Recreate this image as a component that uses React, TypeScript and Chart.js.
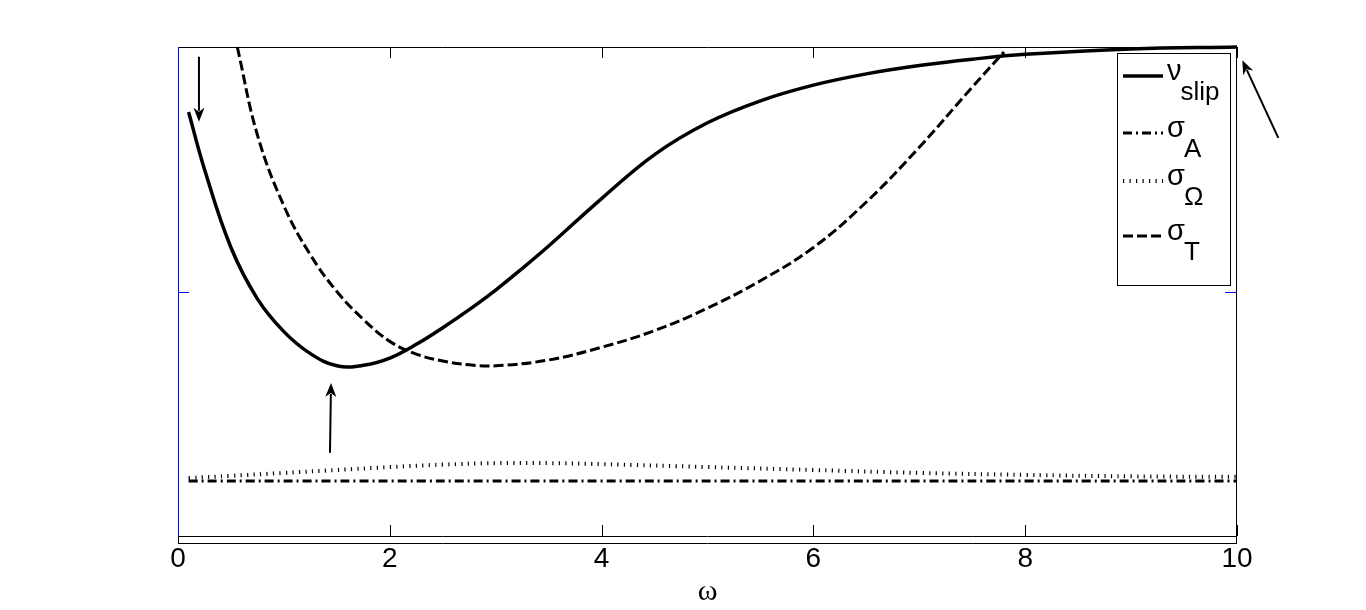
import React, { useEffect, useRef } from 'react';
import { Chart, registerables } from 'chart.js';

Chart.register(...registerables);

const FONT = '"Liberation Sans", Arial, Helvetica, sans-serif';

// ---- axes ----
const xTicks = [0, 2, 4, 6, 8, 10];
const yTicks = [0, 0.5, 1];

// ---- series: nu_slip (solid) ----
const slipOmega = [0.1, 0.25, 0.5, 0.75, 1, 1.25, 1.5, 1.75, 2, 2.25, 2.5, 2.75, 3, 3.25, 3.5, 4, 4.5, 5, 5.5, 6, 6.5, 7, 7.5, 8, 9, 10];
const slipValues = [0.867, 0.75, 0.59, 0.485, 0.418, 0.373, 0.348, 0.349, 0.364, 0.392, 0.426, 0.463, 0.503, 0.547, 0.593, 0.69, 0.78, 0.845, 0.89, 0.922, 0.945, 0.962, 0.975, 0.985, 0.996, 1.0];

// ---- series: sigma_A (dash-dot) ----
const sigmaAOmega = [0.1, 2, 4, 6, 8, 10];
const sigmaAValues = [0.1125, 0.1125, 0.1125, 0.1125, 0.1125, 0.1125];

// ---- series: sigma_Omega (dotted) ----
const sigmaWOmega = [0.1, 0.5, 1, 1.5, 2, 2.5, 3, 3.5, 4, 5, 6, 7, 8, 9, 10];
const sigmaWValues = [0.1186, 0.123, 0.129, 0.135, 0.141, 0.146, 0.149, 0.149, 0.147, 0.141, 0.135, 0.129, 0.125, 0.122, 0.121];

// ---- series: sigma_T (dashed) ----
const sigmaTOmega = [0.56, 0.75, 1, 1.25, 1.5, 1.75, 2, 2.25, 2.5, 2.75, 3, 3.5, 4, 4.5, 5, 5.5, 6, 6.5, 7, 7.5, 7.8];
const sigmaTValues = [1.0, 0.82, 0.675, 0.575, 0.5, 0.443, 0.398, 0.372, 0.358, 0.35, 0.348, 0.36, 0.386, 0.42, 0.466, 0.522, 0.59, 0.683, 0.795, 0.918, 0.99];

// ---- legend labels ----
const legendMain = ['ν', 'σ', 'σ', 'σ'];
const legendSub = ['slip', 'A', 'Ω', 'T'];

// ---- arrow annotations (data coordinates: [omega, value]) ----
const arrowFrom = [[0.198, 0.98], [1.435, 0.17], [10.39, 0.814]];
const arrowTo = [[0.198, 0.847], [1.445, 0.313], [10.05, 0.973]];

const toPoints = (xs: number[], ys: number[]) => xs.map((x, i) => ({ x, y: ys[i] }));

const styles = [
  { width: 3.5, dash: [] as number[] },
  { width: 3, dash: [9, 4, 2, 4] },
  { width: 4, dash: [1.2, 5.3] },
  { width: 3, dash: [10, 4] },
];

const framePlugin = {
  id: 'frame',
  afterDatasetsDraw(chart: any) {
    const { ctx, chartArea: a, scales } = chart;
    const xs = scales.x;
    const ys = scales.y;
    ctx.save();
    ctx.lineWidth = 1;
    ctx.strokeStyle = '#000';
    ctx.beginPath();
    ctx.moveTo(a.left, a.top + 0.5);
    ctx.lineTo(a.right, a.top + 0.5);
    ctx.moveTo(a.right - 0.5, a.top);
    ctx.lineTo(a.right - 0.5, a.bottom + 7);
    ctx.moveTo(a.left, a.bottom + 0.5);
    ctx.lineTo(a.right, a.bottom + 0.5);
    ctx.moveTo(a.left, a.bottom + 7.5);
    ctx.lineTo(a.right, a.bottom + 7.5);
    ctx.moveTo(a.left + 0.5, a.bottom);
    ctx.lineTo(a.left + 0.5, a.bottom + 7);
    xTicks.forEach((v) => {
      const px = Math.round(xs.getPixelForValue(v)) + 0.5;
      ctx.moveTo(px, a.bottom);
      ctx.lineTo(px, a.bottom - 11);
      ctx.moveTo(px, a.top);
      ctx.lineTo(px, a.top + 11);
    });
    ctx.stroke();
    ctx.strokeStyle = '#0000ff';
    ctx.beginPath();
    ctx.moveTo(a.left + 0.5, a.top);
    ctx.lineTo(a.left + 0.5, a.bottom);
    yTicks.forEach((v) => {
      const py = Math.round(ys.getPixelForValue(v)) + 0.5;
      if (v > 0 && v < 1) {
        ctx.moveTo(a.left, py);
        ctx.lineTo(a.left + 11, py);
        ctx.moveTo(a.right - 1, py);
        ctx.lineTo(a.right - 12, py);
      }
    });
    ctx.stroke();
    ctx.restore();
  },
  afterDraw(chart: any) {
    const { ctx, chartArea: a, scales } = chart;
    const xs = scales.x;
    const ys = scales.y;
    ctx.save();
    const bx = a.right - 120;
    const by = a.top + 6;
    const bw = 113;
    const bh = 232;
    ctx.fillStyle = '#fff';
    ctx.fillRect(bx, by, bw, bh);
    ctx.strokeStyle = '#000';
    ctx.lineWidth = 1;
    ctx.strokeRect(bx + 0.5, by + 0.5, bw, bh);
    const rowOff = [29, 86, 134, 189];
    chart.data.datasets.forEach((ds: any, i: number) => {
      const ly = a.top + rowOff[i];
      ctx.beginPath();
      ctx.setLineDash(styles[i].dash);
      ctx.lineWidth = styles[i].width;
      ctx.strokeStyle = '#000';
      ctx.moveTo(bx + 6, ly);
      ctx.lineTo(bx + 46, ly);
      ctx.stroke();
      ctx.setLineDash([]);
      ctx.fillStyle = '#000';
      ctx.textBaseline = 'alphabetic';
      ctx.textAlign = 'left';
      ctx.font = `29px ${FONT}`;
      ctx.fillText(legendMain[i], bx + 50, ly + 4);
      const mw = ctx.measureText(legendMain[i]).width;
      ctx.font = `26px ${FONT}`;
      ctx.fillText(legendSub[i], bx + 49 + mw, ly + 24);
    });
    ctx.strokeStyle = '#000';
    ctx.fillStyle = '#000';
    arrowFrom.forEach((f, i) => {
      const t = arrowTo[i];
      const x1 = xs.getPixelForValue(f[0]);
      const y1 = ys.getPixelForValue(f[1]);
      const x2 = xs.getPixelForValue(t[0]);
      const y2 = ys.getPixelForValue(t[1]);
      const ang = Math.atan2(y2 - y1, x2 - x1);
      const hl = 14;
      const hw = 5.5;
      const bxp = x2 - hl * Math.cos(ang);
      const byp = y2 - hl * Math.sin(ang);
      ctx.lineWidth = 2;
      ctx.beginPath();
      ctx.moveTo(x1, y1);
      ctx.lineTo(bxp + 3 * Math.cos(ang), byp + 3 * Math.sin(ang));
      ctx.stroke();
      ctx.beginPath();
      ctx.moveTo(x2, y2);
      ctx.lineTo(bxp - hw * Math.sin(ang), byp + hw * Math.cos(ang));
      ctx.lineTo(bxp + 4 * Math.cos(ang), byp + 4 * Math.sin(ang));
      ctx.lineTo(bxp + hw * Math.sin(ang), byp - hw * Math.cos(ang));
      ctx.closePath();
      ctx.fill();
    });
    ctx.restore();
  },
};

export default function App() {
  const ref = useRef<HTMLCanvasElement>(null);
  useEffect(() => {
    const series = [
      toPoints(slipOmega, slipValues),
      toPoints(sigmaAOmega, sigmaAValues),
      toPoints(sigmaWOmega, sigmaWValues),
      toPoints(sigmaTOmega, sigmaTValues),
    ];
    const labels = legendMain.map((m, i) => m + legendSub[i]);
    const chart = new Chart(ref.current as HTMLCanvasElement, {
      type: 'line',
      data: {
        datasets: series.map((d, i) => ({
          label: labels[i],
          data: d,
          borderColor: '#000',
          backgroundColor: '#000',
          borderWidth: styles[i].width,
          borderDash: styles[i].dash,
          borderCapStyle: 'butt',
          pointRadius: 0,
          pointHoverRadius: 0,
          fill: false,
          tension: 0.4,
          clip: false,
        })) as any,
      },
      options: {
        responsive: false,
        devicePixelRatio: 1,
        animation: false,
        events: [],
        layout: { padding: { left: 0, top: 47, right: 129, bottom: 0 } },
        plugins: {
          legend: { display: false },
          tooltip: { enabled: false },
          title: { display: false },
        },
        scales: {
          x: {
            type: 'linear',
            min: 0,
            max: 10,
            afterBuildTicks: (s: any) => {
              s.ticks = xTicks.map((v) => ({ value: v }));
            },
            afterFit: (s: any) => {
              s.height = 74;
            },
            grid: { display: false, drawTicks: false },
            border: { display: false },
            ticks: {
              color: '#000',
              font: { family: FONT, size: 28 },
              padding: 6,
              maxRotation: 0,
              autoSkip: false,
            },
            title: {
              display: true,
              text: 'ω',
              color: '#000',
              font: { family: '"Liberation Serif", "DejaVu Serif", serif', size: 30 },
              padding: { top: 0, bottom: 0 },
            },
          },
          y: {
            type: 'linear',
            min: 0,
            max: 1,
            afterBuildTicks: (s: any) => {
              s.ticks = yTicks.map((v) => ({ value: v }));
            },
            afterFit: (s: any) => {
              s.width = 178;
            },
            grid: { display: false, drawTicks: false },
            border: { display: false },
            ticks: { display: false },
          },
        },
      } as any,
      plugins: [framePlugin],
    });
    return () => chart.destroy();
  }, []);
  return (
    <div style={{ position: 'fixed', left: 0, top: 0, width: 1366, height: 610, background: '#fff' }}>
      <canvas ref={ref} width={1366} height={610} style={{ display: 'block', width: 1366, height: 610 }} />
    </div>
  );
}
